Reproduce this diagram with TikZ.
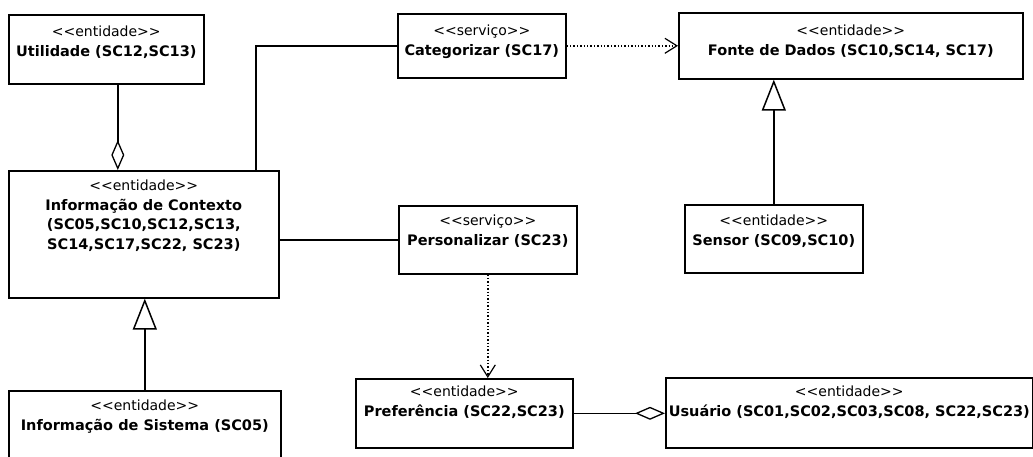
\documentclass[tikz,border=0pt]{standalone}
\usepackage{fontspec}
\setmainfont{DejaVu Sans}
\usetikzlibrary{arrows.meta}

% stereotype text: keep the angle brackets from being merged into guillemets
\newcommand\stereo[1]{<\kern0pt<#1>\kern0pt>}
% class name lines
\newcommand\cname[1]{{\fontsize{14.5}{19.5}\selectfont\bfseries #1}}

% a class box with its stereotype and name lines
% #1 name, #2 x, #3 y (top left), #4 width, #5 height, #6 text offset, #7 text
\newcommand\umlclass[7]{%
  \node[classbox, minimum width=#4pt, minimum height=#5pt] (#1) at (#2,#3) {};
  \node[classtext] (#1-text) at ([yshift=-#6pt]#1.north) {#7};
}

\begin{document}
\begin{tikzpicture}[x=1pt, y=-1pt,
  classbox/.style={draw, line width=1.6pt, inner sep=0pt, anchor=north west},
  classtext/.style={anchor=north, inner sep=0pt, align=center,
    font=\fontsize{14}{19.5}\selectfont},
  link/.style={line width=1.5pt},
  depends/.style={line width=1.4pt, dotted,
    -{Straight Barb[length=12pt, width=15pt, line width=1.2pt]}},
  aggregate/.style={link,
    -{Diamond[open, length=30pt, width=13pt, line width=1.3pt]}},
  inherits/.style={link,
    -{Triangle[open, length=31pt, width=24pt, line width=1.5pt]}},
]
\useasboundingbox[fill=white] (0,0) rectangle (1033,456);

\umlclass{util}{8}{14}{195}{69}{12}{\stereo{entidade}\\\cname{Utilidade (SC12,SC13)}}
\umlclass{cat}{397}{13}{168}{64}{12}{\stereo{serviço}\\\cname{Categorizar (SC17)}}
\umlclass{fonte}{678}{12}{344}{66}{13}{\stereo{entidade}\\\cname{Fonte de Dados (SC10,SC14, SC17)}}
\umlclass{info}{8}{170}{270}{127}{10}{\stereo{entidade}\\\cname{Informação de Contexto}\\\cname{(SC05,SC10,SC12,SC13,}\\\cname{SC14,SC17,SC22, SC23)}}
\umlclass{pers}{398}{205}{178}{68}{10}{\stereo{serviço}\\\cname{Personalizar (SC23)}}
\umlclass{sensor}{684}{204}{178}{68}{11}{\stereo{entidade}\\\cname{Sensor (SC09,SC10)}}
\umlclass{pref}{355}{378}{217}{69}{8}{\stereo{entidade}\\\cname{Preferência (SC22,SC23)}}
\umlclass{user}{665}{377}{367}{70}{9}{\stereo{entidade}\\\cname{Usuário (SC01,SC02,SC03,SC08, SC22,SC23)}}
\umlclass{sist}{8}{390}{272}{80}{10}{\stereo{entidade}\\\cname{Informação de Sistema (SC05)}}

% associations and aggregations
\draw[aggregate] ([xshift=11.5pt]util.south) -- ([xshift=11.5pt]util.south |- info.north);
\draw[link] ([xshift=112pt]info.north) |- (cat.west);
\draw[link] (pers.west -| info.east) -- (pers.west);
\draw[aggregate] (pref.east) -- (pref.east -| user.west);

% dependencies
\draw[depends] (cat.east) -- (cat.east -| fonte.west);
\draw[depends] (pers.south) -- (pers.south |- pref.north);

% generalizations
\draw[inherits] (sensor.north) -- (sensor.north |- fonte.south);
\draw[inherits] (sist.north) -- (sist.north |- info.south);
\end{tikzpicture}
\end{document}
